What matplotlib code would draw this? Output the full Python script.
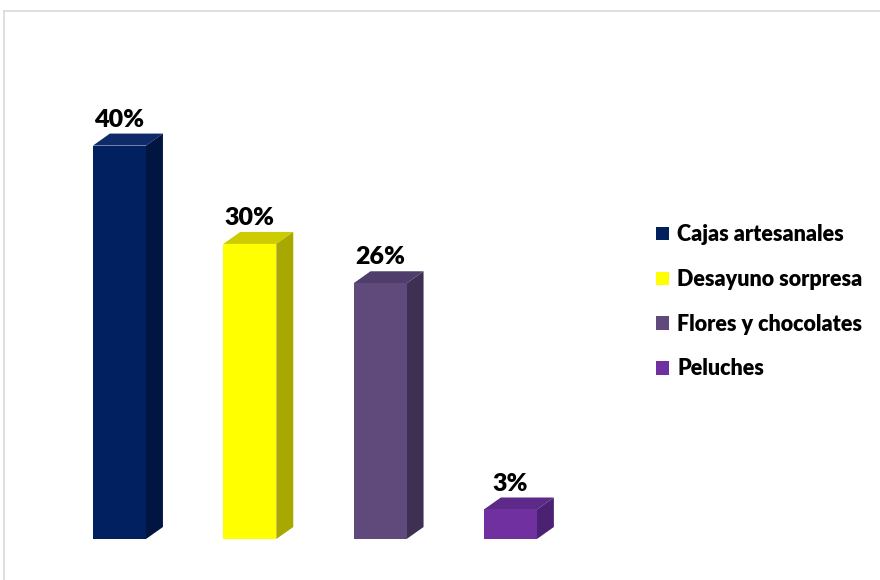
import matplotlib.pyplot as plt
from matplotlib.patches import Polygon, Patch
from matplotlib.lines import Line2D

categories = ['Cajas artesanales', 'Desayuno sorpresa', 'Flores y chocolates', 'Peluches']
values = [40, 30, 26, 3]
labels = ['40%', '30%', '26%', '3%']

front = ['#002060', '#FFFF00', '#604A7B', '#7030A0']
top = ['#0E2A68', '#CCCC00', '#4F3D6C', '#5D2A8A']
side = ['#001540', '#A8A800', '#3E3052', '#4B2173']

plt.rcParams['font.family'] = ['Lato', 'DejaVu Sans']

fig = plt.figure(figsize=(8.8, 5.8), dpi=100)
# axes sized so that one category step is ~130px and 1% is ~9.8px
ax = fig.add_axes([41.3 / 880, 41 / 580, 547.3 / 880, 442.6 / 580])
ax.set_xlim(-0.6, 3.6)
ax.set_ylim(0, 45)
ax.axis('off')

w = 0.407
dx, dy = 0.13, 1.22  # depth of the 3d boxes in data units

x = list(range(len(values)))
ax.bar(x, values, width=w, color=front, zorder=3)

for i, v in enumerate(values):
    l, r = i - w / 2, i + w / 2
    ax.add_patch(Polygon([(l, v), (r, v), (r + dx, v + dy), (l + dx, v + dy)],
                         closed=True, facecolor=top[i], edgecolor='none', zorder=2))
    ax.add_patch(Polygon([(r, 0), (r + dx, dy), (r + dx, v + dy), (r, v)],
                         closed=True, facecolor=side[i], edgecolor='none', zorder=2))
    ax.text(i, v + dy + 0.3, labels[i], ha='center', va='bottom',
            fontsize=18, fontweight='heavy', color='black')

handles = [Patch(facecolor=c, edgecolor='none') for c in front]
fig.legend(handles, categories, loc='upper left', bbox_to_anchor=(637 / 880, 1 - 205 / 580),
           frameon=False, prop={'weight': 'heavy', 'size': 15.5},
           handlelength=0.58, handleheight=0.58, handletextpad=0.4, labelspacing=1.1)

# outer chart frame, cut off at the right and bottom
fig.add_artist(Line2D([4 / 880, 1.0], [1 - 11 / 580, 1 - 11 / 580], color='#D9D9D9', lw=1.2))
fig.add_artist(Line2D([4 / 880, 4 / 880], [0, 1 - 11 / 580], color='#D9D9D9', lw=1.2))

fig.savefig('out.png', dpi=100, facecolor='white')
